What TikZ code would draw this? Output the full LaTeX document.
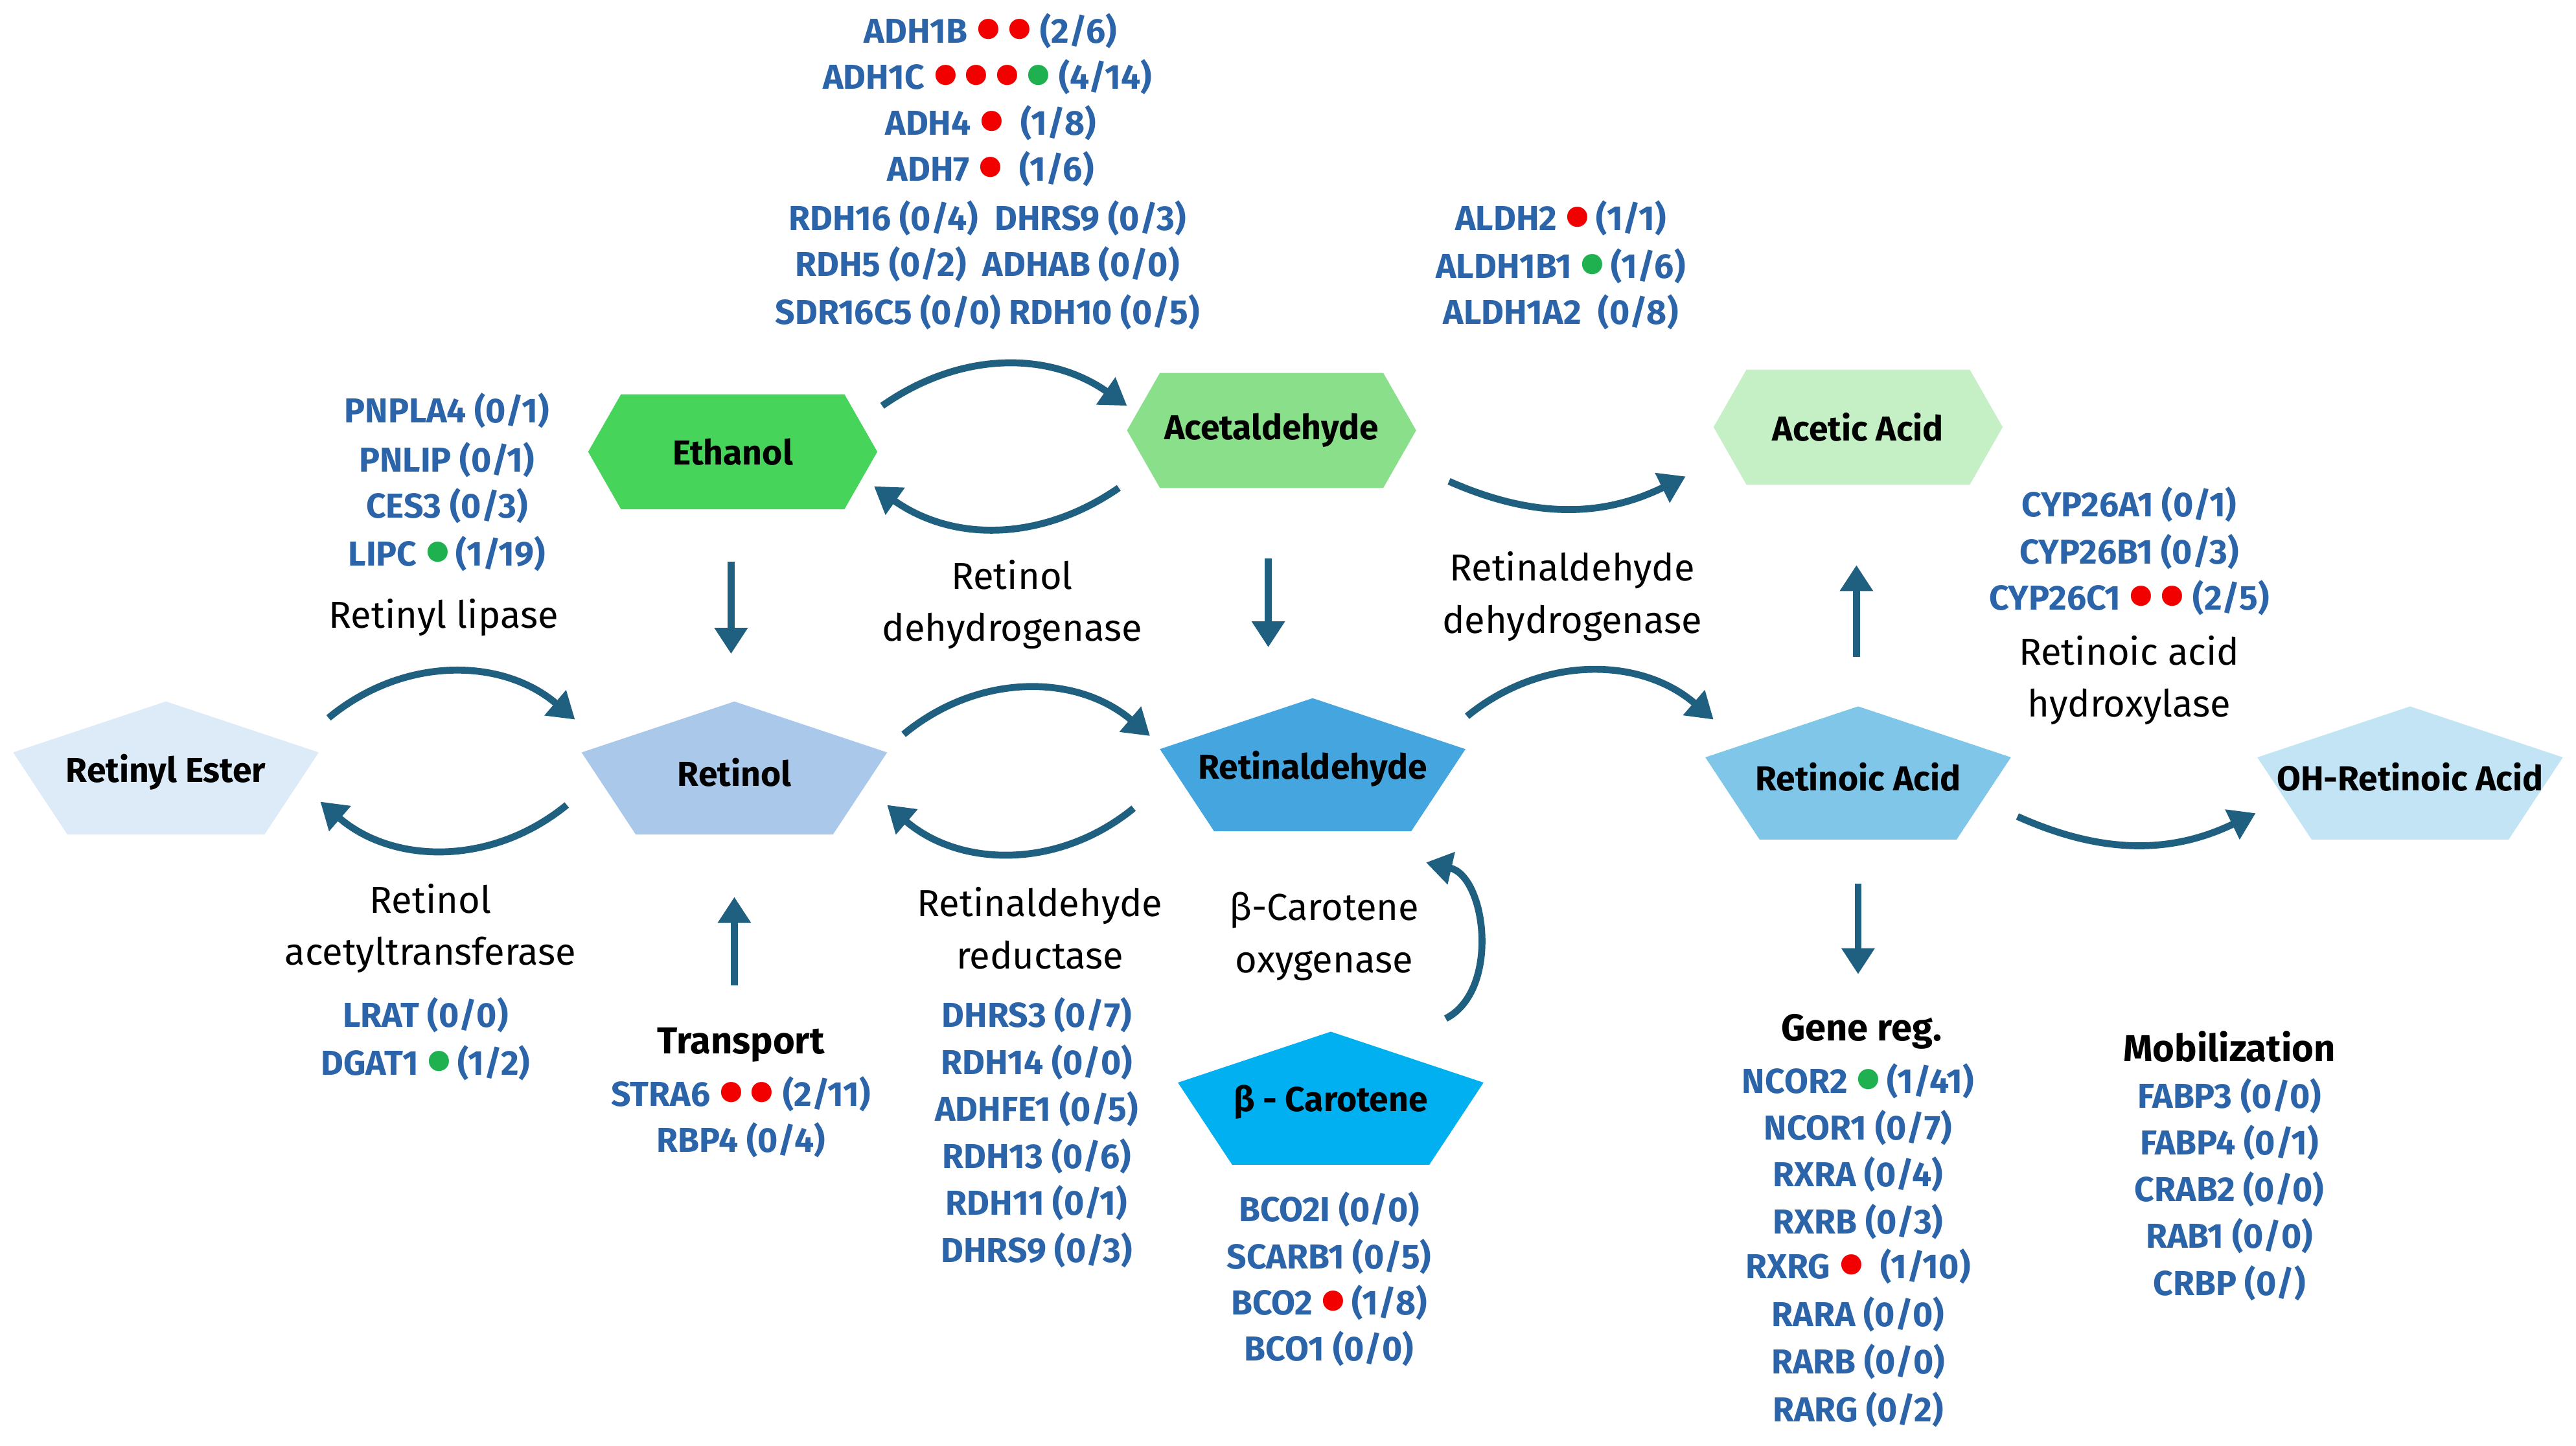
\documentclass[tikz,border=0pt]{standalone}
\usepackage{fontspec}
\setmainfont{Fira Sans}
\usetikzlibrary{arrows.meta,positioning}
\definecolor{genblue}{HTML}{2B64A8}
\definecolor{flowc}{HTML}{1F5F7F}
\definecolor{dotr}{HTML}{F20000}
\definecolor{dotg}{HTML}{1FB050}
\definecolor{cester}{HTML}{DDEAF7}
\definecolor{cretinol}{HTML}{A9C8EA}
\definecolor{cretald}{HTML}{45A6DF}
\definecolor{cracid}{HTML}{7FC6E8}
\definecolor{cohra}{HTML}{C3E4F4}
\definecolor{ccarot}{HTML}{00B0F0}
\definecolor{cethanol}{HTML}{47D45A}
\definecolor{cacetal}{HTML}{8AE08A}
\definecolor{cacetic}{HTML}{C5F0C5}
\newcommand{\rd}{\textcolor{dotr}{\smash{\raisebox{-0.6ex}{\scalebox{2.1}{\textbullet}}}}}
\newcommand{\gd}{\textcolor{dotg}{\smash{\raisebox{-0.6ex}{\scalebox{2.1}{\textbullet}}}}}
% flat pentagon: name, x, y, fill, text
\newcommand{\pent}[5]{%
  \fill[#4] (#2,#3) ++(0,-43) -- ++(-93,31) -- ++(33,50) -- ++(120,0) -- ++(33,-50) -- cycle;
  \node[mol] (#1) at (#2,#3) {#5};}
% hexagon: name, x, y, fill, text
\newcommand{\hexa}[5]{%
  \fill[#4] (#2,#3) ++(-88,0) -- ++(20,-35) -- ++(136,0) -- ++(20,35) -- ++(-20,35) -- ++(-136,0) -- cycle;
  \node[mol] (#1) at (#2,#3) {#5};}
\tikzset{
 mol/.style={font=\fontsize{12}{14}\selectfont\bfseries},
 gene/.style={font=\fontsize{12}{14}\selectfont\bfseries, text=genblue, inner sep=0pt},
 lbl/.style={font=\fontsize{13}{16}\selectfont, align=center, inner sep=0pt},
 flow/.style={draw=flowc, line width=2.4pt, -{Triangle[length=9pt,width=11pt]}}
}
\begin{document}
\begin{tikzpicture}[x=0.02cm,y=-0.02cm]
\useasboundingbox (0,0) rectangle (1568,880);
% molecules
\pent{ester}{101}{470}{cester}{Retinyl Ester}
\pent{retinol}{447}{470}{cretinol}{Retinol}
\pent{retald}{799}{468}{cretald}{Retinaldehyde}
\pent{racid}{1131}{473}{cracid}{Retinoic Acid}
\pent{ohra}{1467}{473}{cohra}{OH-Retinoic Acid}
\pent{carot}{810}{671}{ccarot}{β - Carotene}
\hexa{ethanol}{446}{275}{cethanol}{Ethanol}
\hexa{acetal}{774}{262}{cacetal}{Acetaldehyde}
\hexa{acetic}{1131}{260}{cacetic}{Acetic Acid}
% arrow ends
\coordinate (a1) at (200,437); \coordinate (b1) at (350,438);
\coordinate (a2) at (345,490); \coordinate (b2) at (195,488);
\coordinate (a3) at (550,447); \coordinate (b3) at (700,448);
\coordinate (a4) at (690,492); \coordinate (b4) at (540,490);
\coordinate (a5) at (893,436); \coordinate (b5) at (1043,438);
\coordinate (a6) at (1228,497); \coordinate (b6) at (1373,495);
\coordinate (a7) at (537,247); \coordinate (b7) at (686,247);
\coordinate (a8) at (681,297); \coordinate (b8) at (532,296);
\coordinate (a9) at (882,293); \coordinate (b9) at (1026,290);
\coordinate (a10) at (880,620); \coordinate (b10) at (868,525);
\coordinate (s1) at (445,342); \coordinate (t1) at (445,398);
\coordinate (s2) at (772,340); \coordinate (t2) at (772,394);
\coordinate (s3) at (447,600); \coordinate (t3) at (447,546);
\coordinate (s4) at (1130,400); \coordinate (t4) at (1130,344);
\coordinate (s5) at (1131,538); \coordinate (t5) at (1131,593);
\draw[flow] (a1) to[bend left=40] (b1);
\draw[flow] (a2) to[bend left=40] (b2);
\draw[flow] (a3) to[bend left=40] (b3);
\draw[flow] (a4) to[bend left=40] (b4);
\draw[flow] (a5) to[bend left=40] (b5);
\draw[flow] (a6) to[bend right=25] (b6);
\draw[flow] (a7) to[bend left=35] (b7);
\draw[flow] (a8) to[bend left=35] (b8);
\draw[flow] (a9) to[bend right=25] (b9);
\draw[flow] (a10) to[bend right=70] (b10);
\foreach \i in {1,...,5} \draw[flow] (s\i) -- (t\i);
% enzyme labels
\node[lbl] (l1) at (270,376) {Retinyl lipase};
\node[lbl] (l2) at (616,368) {Retinol\\[2pt]dehydrogenase};
\node[lbl] (l3) at (957,363) {Retinaldehyde\\[2pt]dehydrogenase};
\node[lbl] (l4) at (1296,414) {Retinoic acid\\[2pt]hydroxylase};
\node[lbl] (l5) at (262,565) {Retinol\\[2pt]acetyltransferase};
\node[lbl] (l6) at (633,565) {Retinaldehyde\\[2pt]reductase};
\node[lbl] (l7) at (806,570) {β-Carotene\\[2pt]oxygenase};
\node[lbl,font=\fontsize{13}{16}\selectfont\bfseries] (l8) at (451,636) {Transport};
\node[lbl,font=\fontsize{13}{16}\selectfont\bfseries] (l9) at (1133,628) {Gene reg.};
\node[lbl,font=\fontsize{13}{16}\selectfont\bfseries] (l10) at (1357,637) {Mobilization};
% gene lists
\node[gene] at (603,19) {ADH1B \rd\,\rd\ (2/6)};
\node[gene] at (601,47) {ADH1C \rd\,\rd\,\rd\,\gd\ (4/14)};
\node[gene] at (603,75) {ADH4 \rd\ \ (1/8)};
\node[gene] at (603,103) {ADH7 \rd\ \ (1/6)};
\node[gene] at (601,133) {RDH16 (0/4)\ \ DHRS9 (0/3)};
\node[gene] at (601,161) {RDH5 (0/2)\ \ ADHAB (0/0)};
\node[gene] at (601,190) {SDR16C5 (0/0) RDH10 (0/5)};
\node[gene] at (950,133) {ALDH2 \rd\,(1/1)};
\node[gene] at (950,162) {ALDH1B1 \gd\,(1/6)};
\node[gene] at (950,190) {ALDH1A2\ \ (0/8)};
\node[gene] at (272,250) {PNPLA4 (0/1)};
\node[gene] at (272,280) {PNLIP (0/1)};
\node[gene] at (272,308) {CES3 (0/3)};
\node[gene] at (272,337) {LIPC \gd\,(1/19)};
\node[gene] at (1296,307) {CYP26A1 (0/1)};
\node[gene] at (1296,336) {CYP26B1 (0/3)};
\node[gene] at (1296,364) {CYP26C1 \rd\,\rd\ (2/5)};
\node[gene] at (259,618) {LRAT (0/0)};
\node[gene] at (259,647) {DGAT1 \gd\,(1/2)};
\node[gene] at (451,666) {STRA6 \rd\,\rd\ (2/11)};
\node[gene] at (451,694) {RBP4 (0/4)};
\foreach \g [count=\k from 0] in {DHRS3 (0/7),RDH14 (0/0),ADHFE1 (0/5),RDH13 (0/6),RDH11 (0/1),DHRS9 (0/3)}
  \node[gene] at (631,618+28.6*\k) {\g};
\node[gene] at (809,736) {BCO2I (0/0)};
\node[gene] at (809,765) {SCARB1 (0/5)};
\node[gene] at (809,793) {BCO2 \rd\,(1/8)};
\node[gene] at (809,821) {BCO1 (0/0)};
\node[gene] at (1131,658) {NCOR2 \gd\,(1/41)};
\foreach \g [count=\k from 1] in {NCOR1 (0/7),RXRA (0/4),RXRB (0/3)}
  \node[gene] at (1131,658+28.5*\k) {\g};
\node[gene] at (1131,771) {RXRG \rd\ \ (1/10)};
\foreach \g [count=\k from 0] in {RARA (0/0),RARB (0/0),RARG (0/2)}
  \node[gene] at (1131,800+29*\k) {\g};
\foreach \g [count=\k from 0] in {FABP3 (0/0),FABP4 (0/1),CRAB2 (0/0),RAB1 (0/0),CRBP (0/)}
  \node[gene] at (1357,667+28.5*\k) {\g};
\end{tikzpicture}
\end{document}
